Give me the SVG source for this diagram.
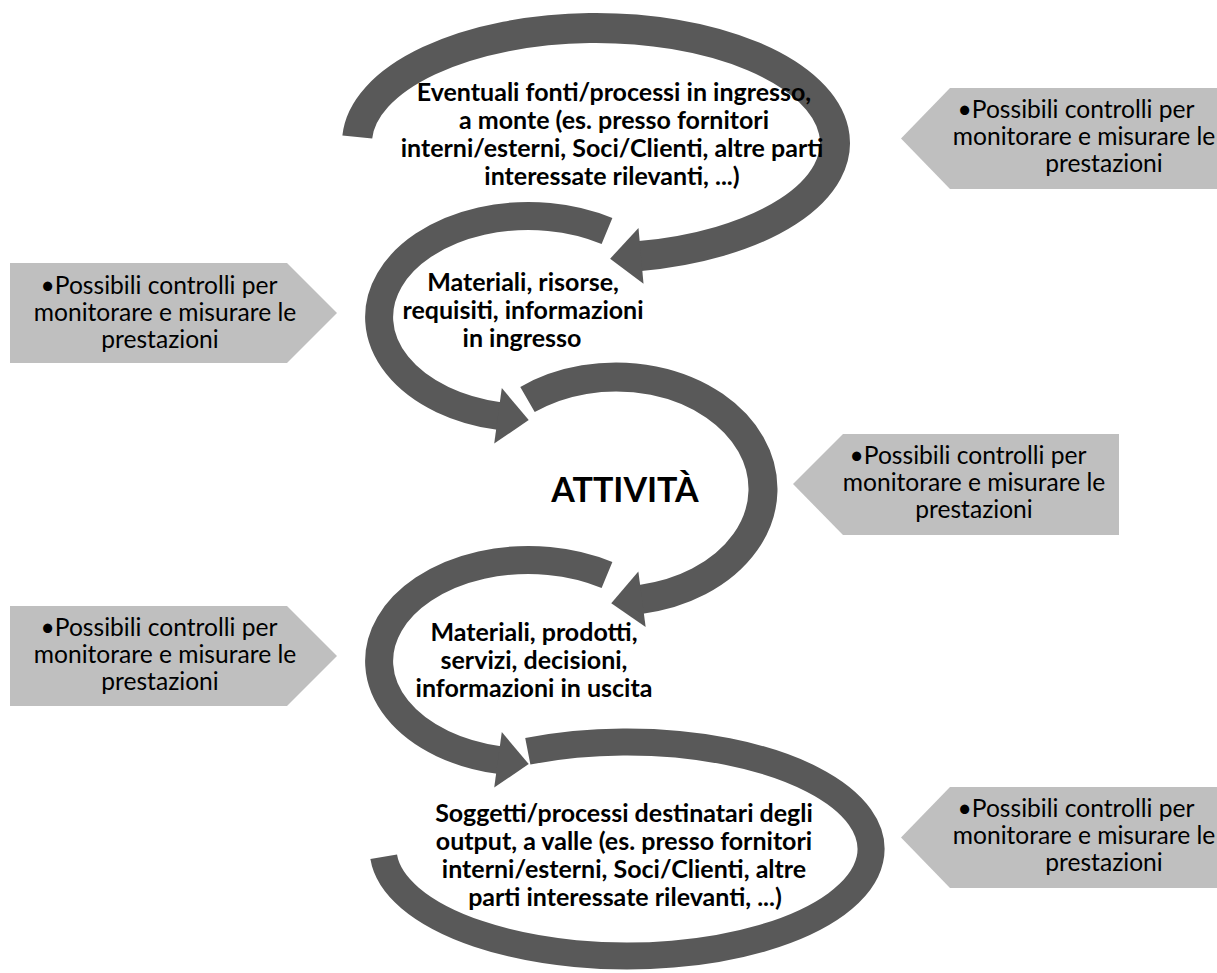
<svg xmlns="http://www.w3.org/2000/svg" width="1217" height="973" viewBox="0 0 1217 973">
  <style>
    .arc { fill: none; stroke: #595959; stroke-linecap: butt; }
    .box { fill: #bfbfbf; }
    .ctl { font-family: Lato, "Liberation Sans", sans-serif; font-size: 24.6px; fill: #000; text-anchor: middle; }
    .lbl { font-family: Lato, "Liberation Sans", sans-serif; font-size: 25px; font-weight: bold; fill: #000; text-anchor: middle; }
    .big { font-family: Lato, "Liberation Sans", sans-serif; font-size: 34px; font-weight: bold; fill: #000; text-anchor: middle; }
  </style>
  <defs>
    <marker id="head" markerUnits="userSpaceOnUse" orient="auto" markerWidth="1" markerHeight="1" refX="0" refY="0" overflow="visible">
      <path d="M-1,-28 L30,0 L-1,28 Z" fill="#595959"/>
    </marker>
  </defs>
  <rect width="1217" height="973" fill="#ffffff"/>

  <!-- curved flow arrows -->
  <g id="connectors">
    <path class="arc" stroke-width="30" d="M357.3,137 A239,115 0 1 1 640,256" marker-end="url(#head)"/>
    <path class="arc" stroke-width="28" d="M607,231 A149.5,101 0 1 0 499,416" marker-end="url(#head)"/>
    <path class="arc" stroke-width="29" d="M527.5,399.5 A147,112 0 1 1 641,599.3" marker-end="url(#head)"/>
    <path class="arc" stroke-width="28" d="M607,575 A149.5,101 0 1 0 499,760" marker-end="url(#head)"/>
    <path class="arc" stroke-width="27" d="M527.8,751.3 A244,107 0 1 1 383.7,856.8"/>
  </g>

  <!-- process stages -->
  <g id="upstream">
    <text class="lbl"><tspan x="614" y="101">Eventuali fonti/processi in ingresso,</tspan><tspan x="614" y="129">a monte (es. presso fornitori</tspan><tspan x="612" y="157">interni/esterni, Soci/Clienti, altre parti</tspan><tspan x="612" y="185">interessate rilevanti, ...)</tspan></text>
  </g>
  <g id="inputs">
    <text class="lbl"><tspan x="523" y="291">Materiali, risorse,</tspan><tspan x="523" y="319">requisiti, informazioni</tspan><tspan x="522" y="347">in ingresso</tspan></text>
  </g>
  <g id="activity">
    <text class="big" x="625" y="502">ATTIVITÀ</text>
  </g>
  <g id="outputs">
    <text class="lbl"><tspan x="534" y="641">Materiali, prodotti,</tspan><tspan x="534" y="669">servizi, decisioni,</tspan><tspan x="534" y="697">informazioni in uscita</tspan></text>
  </g>
  <g id="downstream">
    <text class="lbl"><tspan x="624" y="822">Soggetti/processi destinatari degli</tspan><tspan x="624" y="850">output, a valle (es. presso fornitori</tspan><tspan x="624" y="878">interni/esterni, Soci/Clienti, altre</tspan><tspan x="625" y="906">parti interessate rilevanti, ...)</tspan></text>
  </g>

  <!-- monitoring callouts -->
  <g id="control-upstream">
    <polygon class="box" points="901,138.5 950,88 1230,88 1230,189 950,189"/>
    <text class="ctl"><tspan x="1076" y="118">•Possibili controlli per</tspan><tspan x="1084" y="145">monitorare e misurare le</tspan><tspan x="1104" y="172">prestazioni</tspan></text>
  </g>
  <g id="control-inputs">
    <polygon class="box" points="10,263 287,263 337,313 287,363 10,363"/>
    <text class="ctl"><tspan x="159" y="294">•Possibili controlli per</tspan><tspan x="165" y="321">monitorare e misurare le</tspan><tspan x="160" y="348">prestazioni</tspan></text>
  </g>
  <g id="control-activity">
    <polygon class="box" points="793,484 843,434 1119,434 1119,535 843,535"/>
    <text class="ctl"><tspan x="968" y="464">•Possibili controlli per</tspan><tspan x="974" y="491">monitorare e misurare le</tspan><tspan x="974" y="518">prestazioni</tspan></text>
  </g>
  <g id="control-outputs">
    <polygon class="box" points="10,606 287,606 337,656 287,706 10,706"/>
    <text class="ctl"><tspan x="159" y="636">•Possibili controlli per</tspan><tspan x="165" y="663">monitorare e misurare le</tspan><tspan x="160" y="690">prestazioni</tspan></text>
  </g>
  <g id="control-downstream">
    <polygon class="box" points="901,837.5 950,787 1230,787 1230,888 950,888"/>
    <text class="ctl"><tspan x="1076" y="817">•Possibili controlli per</tspan><tspan x="1084" y="844">monitorare e misurare le</tspan><tspan x="1104" y="871">prestazioni</tspan></text>
  </g>
</svg>
